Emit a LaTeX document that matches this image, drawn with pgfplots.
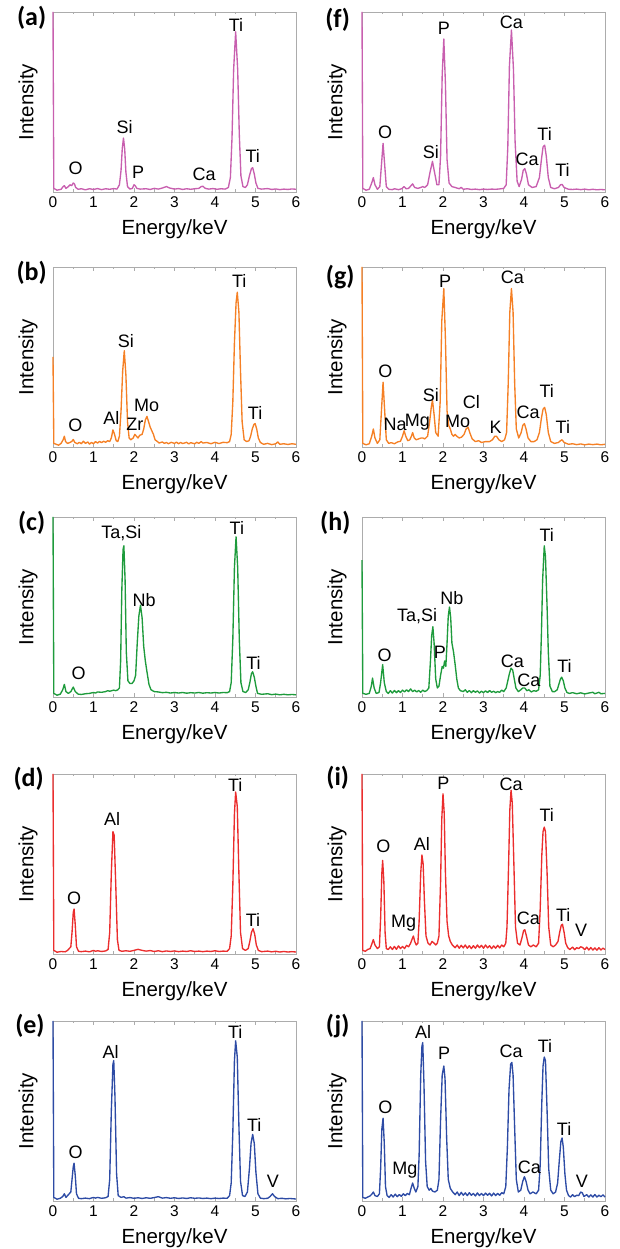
\documentclass[border=0pt]{standalone}
\usepackage{fontspec}
\setmainfont{Liberation Sans}
\newfontfamily\calibri{Carlito}
\usepackage{pgfplots}
\pgfplotsset{compat=1.18}
\definecolor{cmag}{RGB}{200,95,175}
\definecolor{cora}{RGB}{245,128,37}
\definecolor{cgre}{RGB}{30,155,60}
\definecolor{cred}{RGB}{235,45,45}
\definecolor{cblu}{RGB}{45,75,165}
\newcommand{\annfont}{\fontsize{18}{18}\selectfont}
\newcommand{\lab}[3]{\node[font=\annfont,inner sep=0pt] at (axis cs:#1,#2) {#3};}
\newcommand{\panel}[3]{\node[font=\calibri\bfseries\fontsize{26}{26}\selectfont,inner sep=0pt] at (rel axis cs:#1,#2) {#3};}
\pgfplotsset{eds/.style={scale only axis, width=243pt, height=180pt,
  xmin=0,xmax=6,ymin=0,ymax=100, xtick={0,1,2,3,4,5,6}, minor x tick num=1,
  ytick=\empty, axis line style={draw=gray!65, line width=0.8pt},
  major tick length=4pt, minor tick length=2.5pt,
  every tick/.style={gray!65, line width=0.6pt},
  tick label style={font=\fontsize{15.5}{15.5}\selectfont},
  /pgf/number format/assume math mode=true,
  xticklabel style={yshift=-1pt},
  xlabel={Energy/keV}, ylabel={Intensity},
  every axis x label/.style={at={(axis description cs:0.5,-0.205)},anchor=center,font=\fontsize{20.5}{20.5}\selectfont},
  every axis y label/.style={at={(axis description cs:-0.103,0.5)},anchor=center,rotate=90,font=\fontsize{20.5}{20.5}\selectfont},
  clip=false, every axis plot/.append style={line width=1.35pt, line join=round}}}
\begin{document}
\begin{tikzpicture}[x=1pt,y=1pt]
\path[use as bounding box] (0,0) rectangle (620,1249);
% (a)
\begin{axis}[eds, at={(53pt,1057pt)}, anchor=south west]
\addplot[cmag] coordinates {(0,100) (0.02,2) (0.1,1) (0.2,1.5) (0.25,3) (0.28,3.5) (0.32,2) (0.38,3) (0.42,4) (0.46,3.5) (0.5,5) (0.53,4.5) (0.56,2.5) (0.62,1.5) (0.7,1.8) (0.8,1.2) (0.9,1.8) (1.0,1.4) (1.1,1.9) (1.2,1.3) (1.3,1.8) (1.4,1.5) (1.5,1.9) (1.58,1.6) (1.64,4) (1.68,12) (1.71,24) (1.74,30) (1.77,24) (1.80,11) (1.84,3) (1.9,1.6) (1.96,2) (2.0,4) (2.03,3.5) (2.07,2) (2.15,1.6) (2.3,1.8) (2.4,1.4) (2.5,2) (2.6,1.6) (2.7,2.2) (2.8,3) (2.88,2.2) (3.0,1.6) (3.1,1.9) (3.2,1.4) (3.3,1.8) (3.4,1.5) (3.5,1.8) (3.6,2) (3.66,3) (3.7,3.2) (3.76,2) (3.85,1.6) (3.95,1.9) (4.05,1.5) (4.15,1.8) (4.25,1.6) (4.33,2.5) (4.38,8) (4.42,30) (4.46,68) (4.51,89) (4.56,68) (4.60,32) (4.64,9) (4.69,3) (4.75,2.5) (4.8,4) (4.85,9) (4.9,13) (4.93,13.5) (4.97,10) (5.01,5) (5.06,2) (5.15,1.6) (5.3,1.9) (5.4,1.4) (5.5,1.7) (5.6,1.3) (5.7,1.6) (5.8,1.4) (5.9,1.7) (6,1.5)};
\lab{0.56}{13}{O}\lab{1.77}{36}{Si}\lab{2.10}{11}{P}\lab{3.73}{10}{Ca}\lab{4.52}{93}{Ti}\lab{4.93}{20}{Ti}
\panel{-0.088}{0.965}{(a)}
\end{axis}
% (f)
\begin{axis}[eds, at={(362pt,1057pt)}, anchor=south west]
\addplot[cmag] coordinates {(0,100) (0.02,2) (0.1,1) (0.18,1.5) (0.24,5) (0.28,8) (0.32,4) (0.38,1.5) (0.44,3) (0.48,15) (0.52,27) (0.56,15) (0.6,3) (0.66,1.5) (0.75,1.3) (0.8,1.8) (0.9,1.3) (0.98,1.8) (1.04,3) (1.09,1.8) (1.15,2) (1.21,3.5) (1.25,4.5) (1.3,2.5) (1.38,2) (1.45,2.5) (1.5,3) (1.55,2.5) (1.62,4) (1.68,11) (1.74,17) (1.79,11) (1.85,4) (1.9,4) (1.94,20) (1.98,65) (2.02,85) (2.06,60) (2.1,18) (2.15,5) (2.22,3) (2.3,2.5) (2.4,1.8) (2.45,2.6) (2.5,1.5) (2.6,1.8) (2.7,1.4) (2.8,1.6) (2.9,1.3) (3.0,1.6) (3.1,1.4) (3.2,1.6) (3.3,1.5) (3.4,1.7) (3.5,2) (3.56,4) (3.6,25) (3.64,70) (3.69,90) (3.74,68) (3.78,28) (3.83,6) (3.88,3) (3.94,7) (3.98,12) (4.02,13) (4.06,10) (4.11,4) (4.2,2.5) (4.3,3) (4.38,8) (4.43,18) (4.47,25) (4.51,26) (4.55,20) (4.6,8) (4.66,2.5) (4.75,1.8) (4.85,2.5) (4.9,4) (4.94,4.2) (4.99,2.5) (5.1,1.5) (5.2,1.4) (5.3,1.6) (5.4,1.3) (5.5,1.6) (5.6,1.2) (5.7,1.5) (5.8,1.2) (5.9,1.4) (6,1.2)};
\lab{0.57}{33}{O}\lab{1.70}{22}{Si}\lab{2.02}{91}{P}\lab{3.69}{94}{Ca}\lab{4.08}{18}{Ca}\lab{4.51}{32}{Ti}\lab{4.95}{12}{Ti}
\panel{-0.1}{0.955}{(f)}
\end{axis}
% (b)
\begin{axis}[eds, at={(53pt,802pt)}, anchor=south west]
\addplot[cora] coordinates {(0,50) (0.02,2) (0.08,1.5) (0.14,1) (0.2,2) (0.25,4) (0.28,6) (0.31,3) (0.36,2) (0.42,2.5) (0.47,3.2) (0.5,4.2) (0.54,2.5) (0.6,1.8) (0.65,2.6) (0.7,1.8) (0.75,3.2) (0.8,2) (0.86,2.8) (0.9,1.6) (0.95,2.5) (1.0,1.8) (1.05,3) (1.1,2.2) (1.15,3.1) (1.2,2.4) (1.25,3.2) (1.3,2.6) (1.35,3.5) (1.4,3) (1.44,5) (1.48,9.5) (1.52,7) (1.56,3.5) (1.6,3) (1.64,6) (1.68,20) (1.72,42) (1.76,53.5) (1.8,40) (1.84,14) (1.88,5) (1.92,4) (1.98,5) (2.02,7) (2.06,6) (2.1,5) (2.14,6.5) (2.2,7) (2.24,10) (2.28,15) (2.32,17) (2.36,14) (2.4,11) (2.44,9) (2.48,7) (2.52,4) (2.58,3) (2.62,2.2) (2.7,2.8) (2.75,2) (2.8,2.5) (2.85,1.8) (2.92,2.6) (3.0,2) (3.05,2.7) (3.1,1.8) (3.15,2.5) (3.2,1.9) (3.3,2.6) (3.35,1.7) (3.4,2.4) (3.5,1.8) (3.55,2.6) (3.6,2) (3.66,3) (3.7,2.2) (3.8,2.5) (3.9,1.8) (4.0,2.6) (4.1,1.9) (4.2,2.6) (4.3,2.4) (4.36,3) (4.4,7) (4.44,25) (4.48,58) (4.52,80) (4.55,86) (4.59,75) (4.63,42) (4.67,14) (4.72,4) (4.78,3) (4.84,3.5) (4.88,6) (4.92,10) (4.96,12.5) (4.99,13) (5.03,10) (5.07,5) (5.12,2.5) (5.2,1.5) (5.3,2) (5.4,1.3) (5.5,1.8) (5.55,2.8) (5.6,1.5) (5.7,1.8) (5.8,1.4) (5.9,1.8) (6,1.5)};
\lab{0.55}{12}{O}\lab{1.44}{16}{Al}\lab{1.80}{59}{Si}\lab{2.02}{12.5}{Zr}\lab{2.31}{23}{Mo}\lab{4.60}{92}{Ti}\lab{4.99}{19}{Ti}
\panel{-0.088}{0.97}{(b)}
\end{axis}
% (g)
\begin{axis}[eds, at={(362pt,802pt)}, anchor=south west]
\addplot[cora] coordinates {(0,100) (0.02,2) (0.1,1.2) (0.18,1.8) (0.24,6) (0.28,10) (0.32,5) (0.38,2) (0.44,4) (0.48,20) (0.52,36) (0.56,20) (0.6,4) (0.66,2) (0.72,2.4) (0.8,1.8) (0.88,2.8) (0.95,3.2) (1.0,6) (1.04,9) (1.08,6) (1.13,3.5) (1.18,4) (1.22,6) (1.25,8) (1.29,5) (1.34,4) (1.4,4.5) (1.46,5) (1.5,5) (1.55,4.5) (1.62,6) (1.67,14) (1.71,22) (1.74,26) (1.78,18) (1.82,8) (1.88,6) (1.93,25) (1.97,70) (2.02,88) (2.06,60) (2.1,20) (2.14,12) (2.18,10) (2.22,7) (2.26,6) (2.3,7) (2.34,6) (2.4,5) (2.46,5.5) (2.52,7) (2.57,10) (2.62,11) (2.66,8) (2.72,4.5) (2.8,3) (2.88,3.5) (2.95,2.5) (3.05,3) (3.15,3) (3.22,4) (3.28,6) (3.32,6) (3.38,4) (3.45,3) (3.52,4) (3.57,8) (3.61,35) (3.65,75) (3.69,88) (3.73,75) (3.77,35) (3.81,10) (3.87,5) (3.93,8) (3.97,12) (4.01,13) (4.05,10) (4.1,5) (4.17,3) (4.25,3) (4.32,4) (4.38,8) (4.43,16) (4.47,21) (4.51,22) (4.55,18) (4.6,8) (4.66,3) (4.75,2) (4.85,2.5) (4.9,3.5) (4.94,4) (4.99,2.5) (5.1,1.5) (5.2,1.8) (5.3,1.3) (5.4,1.7) (5.5,1.2) (5.6,1.6) (5.7,1.3) (5.8,1.6) (5.9,1.2) (6,1.5)};
\lab{0.58}{42}{O}\lab{0.82}{12.5}{Na}\lab{1.37}{14}{Mg}\lab{1.70}{29}{Si}\lab{2.05}{92}{P}\lab{2.36}{14}{Mo}\lab{2.70}{25}{Cl}\lab{3.30}{11}{K}\lab{3.71}{94}{Ca}\lab{4.10}{19}{Ca}\lab{4.56}{31}{Ti}\lab{4.96}{11}{Ti}
\panel{-0.09}{0.945}{(g)}
\end{axis}
% (c)
\begin{axis}[eds, at={(53pt,552pt)}, anchor=south west]
\addplot[cgre] coordinates {(0,100) (0.02,2) (0.1,1) (0.18,1.6) (0.24,4) (0.28,7) (0.32,3) (0.38,2) (0.44,3) (0.5,5.5) (0.55,3) (0.62,1.6) (0.7,1.4) (0.8,1.8) (0.9,2) (1.0,2.5) (1.05,2.2) (1.1,2.8) (1.2,2.6) (1.3,3) (1.35,3.5) (1.4,3.2) (1.5,3.8) (1.55,3.5) (1.6,4) (1.64,5) (1.67,20) (1.7,60) (1.73,82) (1.75,84) (1.78,65) (1.81,25) (1.85,9) (1.9,7.5) (1.95,7.5) (2.0,9) (2.04,12) (2.08,30) (2.12,45) (2.16,51) (2.2,44) (2.24,28) (2.28,20) (2.32,14) (2.37,7) (2.42,4) (2.5,3) (2.6,2.8) (2.7,2.4) (2.8,2.6) (2.9,2.2) (3.0,2.5) (3.1,2.2) (3.2,2.5) (3.3,2.1) (3.4,2.4) (3.5,2.2) (3.6,2.5) (3.7,2.1) (3.8,2.4) (3.9,2.2) (4.0,2.5) (4.1,2.2) (4.2,2.5) (4.3,2.4) (4.36,3) (4.4,8) (4.44,32) (4.48,72) (4.52,89) (4.56,72) (4.6,32) (4.64,8) (4.69,3) (4.76,2.5) (4.82,4) (4.86,8) (4.9,13) (4.93,14) (4.97,11) (5.01,6) (5.05,2) (5.15,1.5) (5.3,1.8) (5.4,1.3) (5.5,1.6) (5.6,1.2) (5.7,1.5) (5.8,1.2) (5.9,1.4) (6,1.2)};
\lab{0.63}{13}{O}\lab{1.69}{91}{Ta,Si}\lab{2.25}{54}{Nb}\lab{4.54}{94}{Ti}\lab{4.95}{19}{Ti}
\panel{-0.088}{0.967}{(c)}
\end{axis}
% (h)
\begin{axis}[eds, at={(362pt,552pt)}, anchor=south west]
\addplot[cgre] coordinates {(0,76) (0.02,2) (0.1,1.5) (0.18,2) (0.23,6) (0.26,10.5) (0.3,5) (0.35,2) (0.42,2.5) (0.46,8) (0.51,18) (0.55,8) (0.6,3) (0.65,2) (0.7,3.5) (0.75,2.2) (0.8,3.6) (0.85,2.4) (0.9,3.5) (0.95,2.5) (1.0,3.8) (1.05,2.8) (1.1,4) (1.15,3) (1.2,4.5) (1.25,3) (1.3,3.8) (1.35,2.8) (1.4,3.6) (1.45,2.6) (1.5,3.8) (1.55,3) (1.6,3.6) (1.65,5) (1.69,20) (1.72,34) (1.75,39) (1.78,30) (1.82,10) (1.86,5) (1.9,6) (1.94,12) (1.98,17) (2.01,16) (2.04,20) (2.07,17) (2.1,30) (2.13,45) (2.16,50) (2.19,44) (2.22,30) (2.26,25) (2.3,18) (2.34,10) (2.38,5) (2.43,3.5) (2.5,3) (2.55,4) (2.6,2.6) (2.65,3.6) (2.7,2.4) (2.75,3.5) (2.8,2.6) (2.85,3.4) (2.9,2.2) (2.95,3.2) (3.0,2.4) (3.05,3.4) (3.1,2.5) (3.15,3.6) (3.2,2.6) (3.25,3.2) (3.3,2.4) (3.35,3) (3.4,2.6) (3.45,3.8) (3.5,3) (3.56,5) (3.6,9) (3.64,13) (3.68,16) (3.72,15) (3.76,10) (3.8,5) (3.86,3) (3.92,4) (3.97,5) (4.02,5) (4.07,3.5) (4.12,4) (4.18,2.8) (4.24,3.5) (4.3,3.2) (4.36,4) (4.4,12) (4.43,35) (4.46,65) (4.5,84) (4.53,78) (4.57,50) (4.6,25) (4.64,6) (4.7,3) (4.76,3) (4.82,4) (4.86,7) (4.9,10) (4.93,11) (4.97,9) (5.01,5) (5.06,2.5) (5.12,2) (5.2,2.4) (5.3,1.8) (5.4,2.3) (5.5,1.7) (5.6,2.2) (5.7,2.6) (5.75,1.8) (5.85,2.6) (5.9,1.8) (6,2)};
\lab{0.56}{23}{O}\lab{1.36}{45}{Ta,Si}\lab{2.22}{55}{Nb}\lab{1.92}{25}{P}\lab{3.71}{20}{Ca}\lab{4.12}{9.5}{Ca}\lab{4.56}{90}{Ti}\lab{5.0}{17}{Ti}
\panel{-0.11}{0.967}{(h)}
\end{axis}
% (d)
\begin{axis}[eds, at={(53pt,295pt)}, anchor=south west]
\addplot[cred] coordinates {(0,100) (0.02,2) (0.1,1) (0.2,1.4) (0.3,1.2) (0.36,2) (0.4,3) (0.44,4) (0.47,12) (0.5,23) (0.52,25) (0.55,16) (0.58,4) (0.63,1.5) (0.7,1.3) (0.8,1.6) (0.9,1.2) (1.0,2) (1.05,1.5) (1.1,1.8) (1.2,1.4) (1.3,1.7) (1.36,2.5) (1.4,12) (1.44,45) (1.48,68) (1.51,66) (1.55,38) (1.59,8) (1.63,2) (1.7,1.5) (1.8,1.8) (1.9,1.5) (2.0,2) (2.1,2.6) (2.2,2) (2.3,1.6) (2.4,1.9) (2.5,1.4) (2.6,1.8) (2.7,1.3) (2.8,1.7) (2.9,1.4) (3.0,1.7) (3.1,1.3) (3.2,1.6) (3.3,1.4) (3.4,1.8) (3.5,1.4) (3.6,1.6) (3.7,1.3) (3.8,1.6) (3.9,1.4) (4.0,1.8) (4.1,1.4) (4.2,1.6) (4.3,1.5) (4.36,3) (4.4,10) (4.44,38) (4.48,78) (4.51,90) (4.55,82) (4.59,45) (4.63,12) (4.68,3) (4.75,2) (4.82,3) (4.86,7) (4.9,12) (4.94,14) (4.98,11) (5.02,5) (5.07,2) (5.15,1.3) (5.3,1.6) (5.4,1.2) (5.5,1.5) (5.6,1.1) (5.7,1.4) (5.8,1.1) (5.9,1.3) (6,1.1)};
\lab{0.52}{31}{O}\lab{1.46}{75}{Al}\lab{4.50}{94}{Ti}\lab{4.94}{19}{Ti}
\panel{-0.1}{0.972}{(d)}
\end{axis}
% (i)
\begin{axis}[eds, at={(362pt,295pt)}, anchor=south west]
\addplot[cred] coordinates {(0,100) (0.02,2) (0.08,1.5) (0.14,2.5) (0.2,3) (0.25,6) (0.28,8) (0.32,5) (0.38,3) (0.43,4) (0.46,20) (0.49,45) (0.51,52) (0.54,40) (0.57,12) (0.6,3) (0.65,2.5) (0.7,4) (0.75,2.5) (0.8,4.2) (0.85,2.6) (0.9,4.5) (0.95,3) (1.0,4.2) (1.05,3) (1.1,4.8) (1.15,4) (1.2,6) (1.25,9) (1.27,10) (1.3,7) (1.34,5) (1.38,6) (1.41,18) (1.45,45) (1.48,55) (1.51,50) (1.54,30) (1.58,10) (1.63,6) (1.68,5) (1.73,7) (1.78,6) (1.82,5) (1.86,6) (1.9,10) (1.94,40) (1.97,75) (2.0,89) (2.03,78) (2.06,45) (2.1,18) (2.14,10) (2.18,7) (2.23,5) (2.3,3.5) (2.35,5) (2.4,3.2) (2.45,4.8) (2.5,3.4) (2.55,5) (2.6,3.2) (2.65,4.6) (2.7,3) (2.75,4.6) (2.8,3.2) (2.85,5) (2.9,3.5) (2.95,4.8) (3.0,3.2) (3.05,5) (3.1,3.4) (3.15,4.6) (3.2,3) (3.25,4.5) (3.3,3.2) (3.35,4.8) (3.4,3.4) (3.45,5) (3.5,4) (3.55,6) (3.58,15) (3.62,50) (3.65,80) (3.68,91) (3.71,84) (3.75,50) (3.79,15) (3.84,6) (3.9,5) (3.95,9) (3.99,13) (4.02,13.5) (4.06,10) (4.11,5) (4.17,4) (4.23,5) (4.3,4) (4.36,6) (4.4,25) (4.44,55) (4.47,68) (4.5,70.5) (4.53,68) (4.57,45) (4.61,15) (4.66,5) (4.72,4) (4.78,5) (4.84,7) (4.88,12) (4.92,16) (4.95,16.5) (4.99,12) (5.03,6) (5.08,3.5) (5.13,2.5) (5.2,3.8) (5.25,2.4) (5.3,3.5) (5.35,3) (5.4,4) (5.45,3.6) (5.5,2.4) (5.55,3.8) (5.6,2.2) (5.65,3.6) (5.7,2.2) (5.75,3.4) (5.8,2.1) (5.85,3.5) (5.9,2.2) (5.95,3.3) (6,2.4)};
\lab{0.53}{60}{O}\lab{1.03}{17}{Mg}\lab{1.48}{61}{Al}\lab{2.01}{95}{P}\lab{3.68}{94}{Ca}\lab{4.11}{20}{Ca}\lab{4.56}{77}{Ti}\lab{4.97}{21.5}{Ti}\lab{5.41}{13}{V}
\panel{-0.1}{0.978}{(i)}
\end{axis}
% (e)
\begin{axis}[eds, at={(53pt,48pt)}, anchor=south west]
\addplot[cblu] coordinates {(0,100) (0.02,2) (0.1,1) (0.18,1.5) (0.24,2.5) (0.28,4) (0.32,2) (0.36,3) (0.4,4) (0.44,5) (0.47,12) (0.5,19) (0.52,21) (0.55,14) (0.58,4) (0.63,1.5) (0.7,1.3) (0.8,1.6) (0.9,1.3) (1.0,2) (1.05,1.6) (1.1,2) (1.2,1.5) (1.3,1.8) (1.36,2.5) (1.4,12) (1.44,50) (1.48,76) (1.5,78) (1.53,58) (1.57,15) (1.61,3) (1.68,2) (1.75,2.4) (1.8,1.6) (1.9,1.9) (2.0,1.5) (2.1,1.8) (2.2,1.4) (2.3,1.8) (2.4,1.5) (2.5,1.9) (2.6,2.4) (2.7,1.6) (2.8,1.9) (2.9,1.5) (3.0,1.8) (3.1,1.4) (3.2,1.7) (3.3,1.4) (3.4,1.8) (3.5,1.5) (3.6,1.7) (3.7,1.4) (3.8,1.6) (3.9,1.3) (4.0,1.6) (4.1,1.4) (4.2,1.6) (4.3,1.5) (4.36,3) (4.4,10) (4.44,38) (4.48,78) (4.51,89) (4.55,80) (4.59,42) (4.63,11) (4.68,3) (4.74,2.5) (4.8,5) (4.85,18) (4.89,32) (4.93,37) (4.97,32) (5.01,16) (5.06,4) (5.12,1.6) (5.2,1.3) (5.3,1.5) (5.36,2.5) (5.42,4) (5.47,2.5) (5.55,1.3) (5.65,1.5) (5.75,1.2) (5.85,1.4) (6,1.1)};
\lab{0.56}{27}{O}\lab{1.42}{83}{Al}\lab{4.50}{94}{Ti}\lab{4.97}{42}{Ti}\lab{5.43}{11}{V}
\panel{-0.095}{0.972}{(e)}
\end{axis}
% (j)
\begin{axis}[eds, at={(362pt,48pt)}, anchor=south west]
\addplot[cblu] coordinates {(0,100) (0.02,2) (0.08,1.5) (0.14,2.2) (0.2,2.8) (0.25,4) (0.28,5) (0.32,3) (0.38,2.5) (0.43,4) (0.46,18) (0.49,40) (0.52,46) (0.55,32) (0.58,8) (0.62,3) (0.67,2) (0.72,3.5) (0.77,2.2) (0.82,3.8) (0.87,2.4) (0.92,3.6) (0.97,2.6) (1.02,4) (1.07,3) (1.12,4.2) (1.17,3.5) (1.21,7) (1.25,10) (1.29,7) (1.33,5) (1.38,8) (1.41,25) (1.45,70) (1.48,86) (1.5,88) (1.53,65) (1.57,22) (1.61,8) (1.66,6) (1.7,7) (1.74,5.5) (1.8,5) (1.86,6) (1.9,12) (1.94,45) (1.98,70) (2.02,75) (2.05,68) (2.09,35) (2.13,12) (2.18,7) (2.24,5) (2.3,3.5) (2.35,5) (2.4,3) (2.45,4.8) (2.5,3.2) (2.55,4.5) (2.6,3) (2.65,4.6) (2.7,3.2) (2.75,4.2) (2.8,2.8) (2.85,4.5) (2.9,3) (2.95,4.2) (3.0,3) (3.05,4.4) (3.1,3.2) (3.15,4.3) (3.2,2.8) (3.25,4.4) (3.3,3) (3.35,4.2) (3.4,3.2) (3.45,4.6) (3.5,4) (3.55,8) (3.59,30) (3.63,62) (3.67,76) (3.7,77) (3.73,70) (3.77,40) (3.81,12) (3.86,5) (3.92,6) (3.97,11) (4.01,13.5) (4.05,11) (4.1,6) (4.15,4) (4.22,5) (4.3,4) (4.36,6) (4.4,20) (4.44,55) (4.47,75) (4.5,80) (4.53,78) (4.57,50) (4.61,18) (4.66,6) (4.72,4) (4.78,5) (4.83,10) (4.87,22) (4.91,33) (4.94,35) (4.97,30) (5.01,15) (5.05,6) (5.1,3) (5.15,2.2) (5.2,3.5) (5.25,2.4) (5.3,3.2) (5.35,3) (5.4,5) (5.44,4.5) (5.48,2.5) (5.55,3.5) (5.6,2.2) (5.65,3.4) (5.7,2.2) (5.75,3.6) (5.8,2.2) (5.85,3.2) (5.9,2.4) (5.95,3.4) (6,2.2)};
\lab{0.58}{52}{O}\lab{1.06}{17}{Mg}\lab{1.51}{94}{Al}\lab{2.03}{82}{P}\lab{3.68}{83}{Ca}\lab{4.13}{18.5}{Ca}\lab{4.52}{86}{Ti}\lab{4.99}{40}{Ti}\lab{5.43}{11}{V}
\panel{-0.1}{0.97}{(j)}
\end{axis}
\end{tikzpicture}
\end{document}
